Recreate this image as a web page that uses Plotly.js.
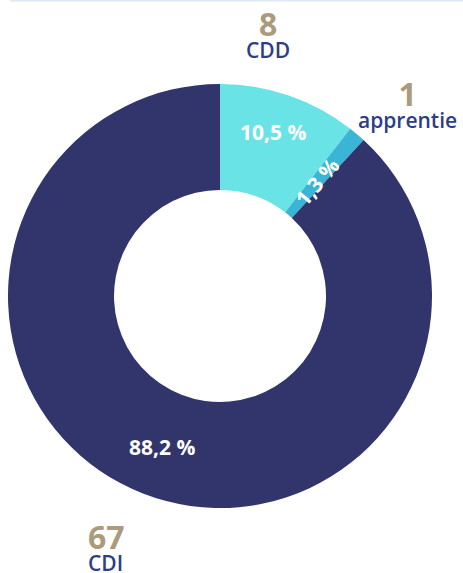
<!DOCTYPE html>
<html>
<head>
<meta charset="utf-8">
<script src="https://cdn.plot.ly/plotly-3.0.1.min.js"></script>
<style>html,body{margin:0;padding:0;background:#fff;}#chart{width:463px;height:573px;}</style>
</head>
<body>
<div id="chart"></div>
<script>
// Data
const labels = ["CDD", "apprentie", "CDI"];
const values = [8, 1, 67];
const sliceColors = ["#6ae3e6", "#3bb5d5", "#31356b"];

const W = 463, H = 573;
const total = values.reduce((a, b) => a + b, 0);
const pct = values.map(v => (v / total * 100).toFixed(1).replace('.', ',') + ' %');

const FONT = "Open Sans, Inter, sans-serif";
const TAN = "#ab9b7d";
const NAVY = "#2d3e87";

function px(x) { return x / W; }
function py(y) { return 1 - y / H; }

const trace = {
  type: 'pie',
  labels: labels,
  values: values,
  hole: 0.5,
  sort: false,
  direction: 'clockwise',
  rotation: 0,
  marker: { colors: sliceColors, line: { width: 0 } },
  textinfo: 'none',
  hoverinfo: 'none',
  showlegend: false,
  domain: { x: [px(8), px(432)], y: [py(508), py(84)] }
};

// outer category labels (count + name) and inside percentage labels
const outer = [
  { x: 268, y: 33, anchor: 'center' },
  { x: 407, y: 103, anchor: 'center' },
  { x: 87, y: 546, anchor: 'left' }
];
const annotations = [];
outer.forEach((o, i) => {
  annotations.push({ xref: 'paper', yref: 'paper', x: px(o.x), y: py(o.y), xanchor: o.anchor, yanchor: 'middle',
    align: o.anchor, borderpad: 0,
    text: '<span style="font-size:32px;color:' + TAN + '"><b>' + values[i] + '</b></span><br>' +
          '<span style="font-size:21px">' + labels[i] + '</span>',
    showarrow: false, font: { family: FONT, size: 17, color: NAVY, weight: 600 } });
});
const inner = [
  { x: 273, y: 132, angle: 0 },
  { x: 317, y: 182, angle: -50 },
  { x: 162, y: 447, angle: 0 }
];
inner.forEach((p, i) => {
  annotations.push({ xref: 'paper', yref: 'paper', x: px(p.x), y: py(p.y), xanchor: 'center', yanchor: 'middle',
    text: pct[i], textangle: p.angle, showarrow: false, font: { family: FONT, size: 21, color: '#ffffff', weight: 700 } });
});

const layout = {
  width: W, height: H,
  margin: { l: 0, r: 0, t: 0, b: 0 },
  paper_bgcolor: '#ffffff',
  showlegend: false,
  annotations: annotations,
  shapes: [{ type: 'line', xref: 'paper', yref: 'paper', x0: px(10), x1: 1, y0: py(0.7), y1: py(0.7),
    line: { color: '#dceaf5', width: 1.5 } }]
};

Plotly.newPlot('chart', [trace], layout, { displayModeBar: false, staticPlot: true });
</script>
</body>
</html>
